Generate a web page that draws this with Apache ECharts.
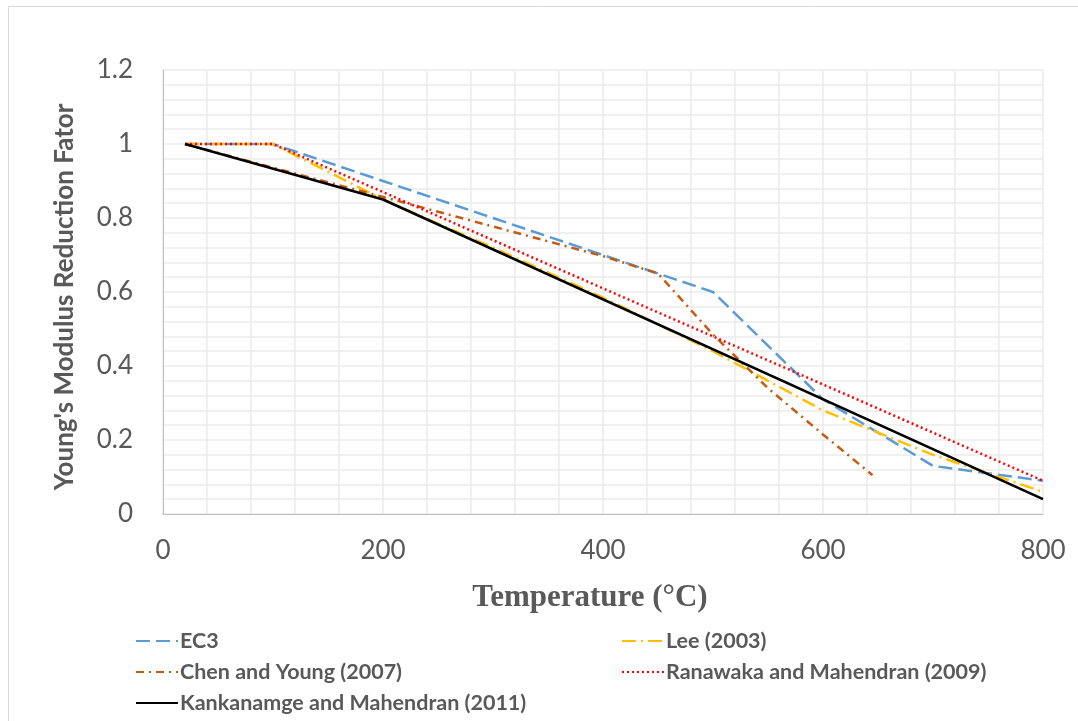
<!DOCTYPE html>
<html lang="en">
<head>
  <meta charset="UTF-8">
  <title>Young's Modulus Reduction Factor</title>
  <script src="https://cdn.jsdelivr.net/npm/echarts@6/dist/echarts.min.js"></script>
  <style>
    html, body {
      margin: 0;
      height: 100%;
      background: #fff;
    }

    #main {
      width: 1078px;
      height: 721px;
    }
  </style>
</head>
<body>
  <div id="main"></div>

  <script type="text/javascript">
    // temperatures (°C) and reduction factors
    var ec3Temp = [20, 100, 200, 300, 400, 500, 600, 700, 800];
    var ec3Val = [1, 1, 0.9, 0.8, 0.7, 0.6, 0.31, 0.13, 0.09];

    var leeTemp = [20, 100, 200, 300, 400, 500, 600, 700, 800];
    var leeVal = [1, 1, 0.85, 0.72, 0.585, 0.44, 0.28, 0.16, 0.06];

    var chenTemp = [20, 100, 200, 300, 400, 450, 500, 550, 600, 645];
    var chenVal = [1, 0.936, 0.857, 0.777, 0.697, 0.65, 0.485, 0.34, 0.215, 0.105];

    var ranaTemp = [20, 100, 200, 300, 400, 500, 600, 700, 800];
    var ranaVal = [1, 1, 0.87, 0.74, 0.61, 0.48, 0.35, 0.22, 0.09];

    var kankTemp = [20, 200, 800];
    var kankVal = [1, 0.85, 0.04];

    var xTicks = [0, 200, 400, 600, 800];
    var yTicks = [0, 0.2, 0.4, 0.6, 0.8, 1, 1.2];

    function pairs(xs, ys) {
      return xs.map(function (x, i) { return [x, ys[i]]; });
    }

    var myChart = echarts.init(document.getElementById('main'));

    var labelFont = 'Lato, "Open Sans", sans-serif';

    function lineSeries(name, xs, ys, color, dash, width) {
      return {
        name: name,
        type: 'line',
        data: pairs(xs, ys),
        showSymbol: false,
        symbol: 'none',
        animation: false,
        lineStyle: { color: color, width: width, type: dash },
        itemStyle: { color: color }
      };
    }

    var legendText = { color: '#595959', fontFamily: labelFont, fontWeight: 'bold', fontSize: 21.5, lineHeight: 22, padding: [0, 0, 0, -3] };
    var legendBase = {
      orient: 'vertical',
      top: 625,
      height: 92,
      itemWidth: 42, itemHeight: 14, itemGap: 9,
      itemStyle: { opacity: 0, borderWidth: 0 },
      textStyle: legendText
    };

    var option = {
      backgroundColor: '#fff',
      animation: false,
      grid: { left: 163, right: 35, top: 70, bottom: 207 },
      graphic: [{
        type: 'rect',
        shape: { x: 8.5, y: 6.5, width: 1200, height: 900 },
        style: { fill: 'none', stroke: '#D9D9D9', lineWidth: 1 },
        silent: true
      }],
      legend: [
        Object.assign({}, legendBase, {
          left: 130,
          data: ['EC3', 'Chen and Young (2007)', 'Kankanamge and Mahendran (2011)']
        }),
        Object.assign({}, legendBase, {
          left: 616,
          data: ['Lee (2003)', 'Ranawaka and Mahendran (2009)']
        })
      ],
      xAxis: {
        type: 'value',
        min: xTicks[0], max: xTicks[xTicks.length - 1], interval: 200,
        name: 'Temperature (°C)',
        nameLocation: 'middle',
        nameGap: 68,
        nameTextStyle: { fontFamily: '"Liberation Serif", serif', fontWeight: 'bold', fontSize: 31, color: '#595959', padding: [0, 26, 0, 0] },
        axisLine: { show: true, lineStyle: { color: '#BFBFBF', width: 1 } },
        axisTick: { show: false },
        axisLabel: { fontFamily: labelFont, fontSize: 26, color: '#595959', margin: 24 },
        splitLine: { show: true, lineStyle: { color: '#EBEBEB', width: 1.5 } },
        minorTick: { show: false, splitNumber: 5 },
        minorSplitLine: { show: true, lineStyle: { color: '#EBEBEB', width: 1.5 } }
      },
      yAxis: {
        type: 'value',
        min: yTicks[0], max: yTicks[yTicks.length - 1], interval: 0.2,
        name: "Young's Modulus Reduction Fator",
        nameLocation: 'middle',
        nameGap: 85,
        nameTextStyle: { fontFamily: labelFont, fontWeight: 'bold', fontSize: 26, color: '#595959', padding: [0, 10, 0, 0] },
        axisLine: { show: true, lineStyle: { color: '#BFBFBF', width: 1 } },
        axisTick: { show: false },
        axisLabel: { fontFamily: labelFont, fontSize: 26, color: '#595959', margin: 30 },
        splitLine: { show: true, lineStyle: { color: '#EBEBEB', width: 1.5 } },
        minorTick: { show: false, splitNumber: 5 },
        minorSplitLine: { show: true, lineStyle: { color: '#EBEBEB', width: 1.5 } }
      },
      series: [
        lineSeries('EC3', ec3Temp, ec3Val, '#5B9BD5', [14, 6], 2.5),
        lineSeries('Lee (2003)', leeTemp, leeVal, '#FFC000', [14, 5, 2, 5], 2.5),
        lineSeries('Chen and Young (2007)', chenTemp, chenVal, '#C55A11', [8, 5, 2, 5], 2.5),
        lineSeries('Ranawaka and Mahendran (2009)', ranaTemp, ranaVal, '#FF0000', [2, 3], 2.5),
        lineSeries('Kankanamge and Mahendran (2011)', kankTemp, kankVal, '#000000', 'solid', 2.5)
      ]
    };

    myChart.setOption(option);
  </script>
</body>
</html>
